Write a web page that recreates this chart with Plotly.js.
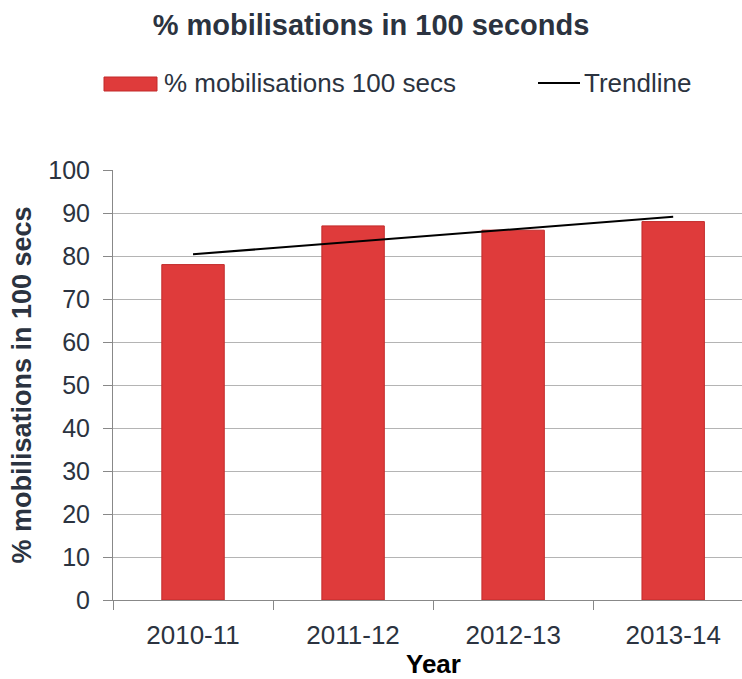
<!DOCTYPE html>
<html>
<head>
<meta charset="utf-8">
<script src="https://cdn.plot.ly/plotly-3.0.1.min.js"></script>
<style>html,body{margin:0;padding:0;background:#fff;}#chart{width:742px;height:679px;}</style>
</head>
<body>
<div id="chart"></div>
<script>
const years = ["2010-11", "2011-12", "2012-13", "2013-14"];
const mobilisations = [78, 87, 86, 88];
const trendline = [80.4, 83.3, 86.2, 89.1];
const yTicks = [0, 10, 20, 30, 40, 50, 60, 70, 80, 90, 100];
const seriesNames = ["% mobilisations 100 secs", "Trendline"];

const font = "Liberation Sans, Arial, sans-serif";
const textColor = "#2b3340";
const barColor = "#df3b3b";

// plot area geometry (pixels) used to place the hand-made legend
const W = 742, H = 679;
const M = {l: 113, r: 0, t: 170, b: 79};
const pw = W - M.l - M.r, ph = H - M.t - M.b;
const px = x => (x - M.l) / pw;
const py = y => (H - M.b - y) / ph;

const traces = [
  {
    type: "bar",
    x: years,
    y: mobilisations,
    name: seriesNames[0],
    width: 0.39,
    marker: {color: barColor, line: {color: "#c22a2a", width: 1}}
  },
  {
    type: "scatter",
    mode: "lines",
    x: years,
    y: trendline,
    name: seriesNames[1],
    line: {color: "#000000", width: 2}
  }
];

const layout = {
  width: W,
  height: H,
  margin: M,
  paper_bgcolor: "#ffffff",
  plot_bgcolor: "#ffffff",
  font: {family: font, size: 25, color: textColor},
  title: {
    text: "<b>% mobilisations in 100 seconds</b>",
    font: {family: font, size: 29, color: textColor},
    x: 0.5, xanchor: "center", xref: "container",
    y: 0.963, yanchor: "middle", yref: "container"
  },
  showlegend: false,
  shapes: [
    {type: "rect", xref: "paper", yref: "paper",
     x0: px(104), x1: px(157), y0: py(91), y1: py(77),
     fillcolor: barColor, line: {color: "#c22a2a", width: 1}},
    {type: "line", xref: "paper", yref: "paper",
     x0: px(538), x1: px(580), y0: py(83), y1: py(83),
     line: {color: "#000000", width: 2}}
  ],
  annotations: [
    {xref: "paper", yref: "paper", x: px(162), y: py(83), xanchor: "left", yanchor: "middle",
     text: seriesNames[0], showarrow: false, font: {family: font, size: 26, color: textColor}},
    {xref: "paper", yref: "paper", x: px(582), y: py(83), xanchor: "left", yanchor: "middle",
     text: seriesNames[1], showarrow: false, font: {family: font, size: 26, color: textColor}},
    {xref: "paper", yref: "paper", x: px(433), y: py(664), xanchor: "center", yanchor: "middle",
     borderpad: 0, text: "<b>Year</b>", showarrow: false, font: {family: font, size: 26, color: "#000000"}}
  ],
  xaxis: {
    type: "category",
    range: [-0.5, 3.43],
    tickson: "boundaries",
    ticks: "outside",
    ticklen: 9,
    tickcolor: "#888888",
    tickangle: 0,
    ticklabelstandoff: 12,
    showgrid: false,
    showline: true,
    linecolor: "#888888",
    linewidth: 1,
    automargin: false,
    tickfont: {family: font, size: 26, color: textColor}
  },
  yaxis: {
    range: [0, 100],
    tickvals: yTicks,
    ticks: "outside",
    ticklen: 9,
    tickcolor: "#888888",
    ticklabelstandoff: 8,
    showgrid: true,
    gridcolor: "#b4b4b4",
    gridwidth: 1,
    zeroline: false,
    showline: true,
    linecolor: "#888888",
    linewidth: 1,
    automargin: false,
    tickfont: {family: font, size: 25, color: textColor},
    title: {text: "<b>% mobilisations in 100 secs</b>", font: {family: font, size: 27, color: textColor}, standoff: 8}
  },
  bargap: 0.61
};

Plotly.newPlot("chart", traces, layout, {displayModeBar: false, staticPlot: true});
</script>
</body>
</html>
